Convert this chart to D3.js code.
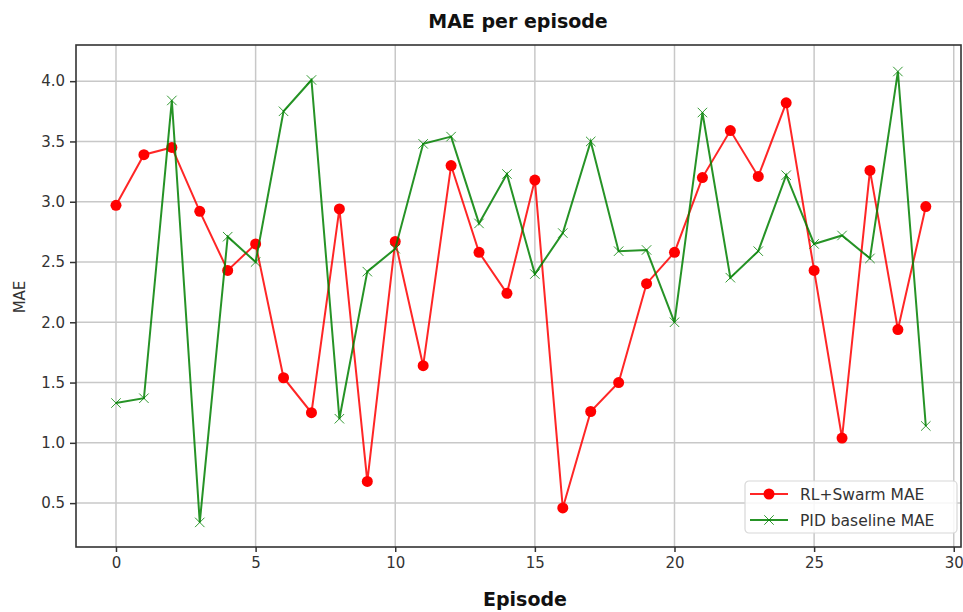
<!DOCTYPE html>
<html>
<head>
<meta charset="utf-8">
<script src="https://cdn.jsdelivr.net/npm/d3@7"></script>
<style>
  html, body { margin: 0; padding: 0; background: #fff; }
  svg { display: block; }
  text { font-family: "DejaVu Sans", sans-serif; }
</style>
</head>
<body>
<script>
// Mean absolute error per training episode for the two controllers
const episodes = d3.range(0, 30);
const rlSwarmMAE = [2.97, 3.39, 3.45, 2.92, 2.43, 2.65, 1.54, 1.25, 2.94, 0.68,
                    2.67, 1.64, 3.30, 2.58, 2.24, 3.18, 0.46, 1.26, 1.50, 2.32,
                    2.58, 3.20, 3.59, 3.21, 3.82, 2.43, 1.04, 3.26, 1.94, 2.96];
const pidMAE     = [1.33, 1.37, 3.84, 0.34, 2.71, 2.50, 3.75, 4.01, 1.20, 2.42,
                    2.61, 3.48, 3.54, 2.82, 3.23, 2.40, 2.74, 3.50, 2.59, 2.60,
                    2.00, 3.74, 2.37, 2.59, 3.22, 2.65, 2.72, 2.53, 4.08, 1.14];
const xTicks = [0, 5, 10, 15, 20, 25, 30];
const yTicks = [0.5, 1.0, 1.5, 2.0, 2.5, 3.0, 3.5, 4.0];
const seriesNames = ["RL+Swarm MAE", "PID baseline MAE"];

const W = 963, H = 612;
const plot = { left: 76, right: 961, top: 45, bottom: 547 };

const svg = d3.select("body").append("svg").attr("width", W).attr("height", H);

const x = d3.scaleLinear().domain([-1.432, 30.26]).range([plot.left, plot.right]);
const y = d3.scaleLinear().domain([0.136, 4.30]).range([plot.bottom, plot.top]);

// grid
const grid = svg.append("g");
grid.selectAll("line.gx").data(xTicks).join("line")
  .attr("x1", d => x(d)).attr("x2", d => x(d))
  .attr("y1", plot.top).attr("y2", plot.bottom)
  .attr("stroke", "#c8c8c8").attr("stroke-width", 1.5);
grid.selectAll("line.gy").data(yTicks).join("line")
  .attr("x1", plot.left).attr("x2", plot.right)
  .attr("y1", d => y(d)).attr("y2", d => y(d))
  .attr("stroke", "#c8c8c8").attr("stroke-width", 1.5);

// axes
const xAxis = svg.append("g").attr("transform", `translate(0,${plot.bottom})`)
  .call(d3.axisBottom(x).tickValues(xTicks).tickFormat(d3.format("d")).tickSize(5).tickPadding(5));
const yAxis = svg.append("g").attr("transform", `translate(${plot.left},0)`)
  .call(d3.axisLeft(y).tickValues(yTicks).tickFormat(d3.format(".1f")).tickSize(6).tickPadding(5));
[xAxis, yAxis].forEach(g => {
  g.select(".domain").remove();
  g.selectAll(".tick line").attr("stroke", "#333").attr("stroke-width", 1.5);
  g.selectAll(".tick text").attr("fill", "#333").style("font-size", "15px")
    .style("font-family", "DejaVu Sans, sans-serif");
});

// frame
svg.append("rect")
  .attr("x", plot.left).attr("y", plot.top)
  .attr("width", plot.right - plot.left).attr("height", plot.bottom - plot.top)
  .attr("fill", "none").attr("stroke", "#333").attr("stroke-width", 1.6);

// lines
const line = d3.line().x((d, i) => x(episodes[i])).y(d => y(d));

svg.append("path").datum(rlSwarmMAE)
  .attr("d", line).attr("fill", "none")
  .attr("stroke", "#ff0000").attr("stroke-width", 2).attr("stroke-opacity", 0.85);
svg.append("g").selectAll("circle").data(rlSwarmMAE).join("circle")
  .attr("cx", (d, i) => x(episodes[i])).attr("cy", d => y(d))
  .attr("r", 5.5).attr("fill", "#ff0000");

svg.append("path").datum(pidMAE)
  .attr("d", line).attr("fill", "none")
  .attr("stroke", "#008000").attr("stroke-width", 2).attr("stroke-opacity", 0.85);
const xSym = d3.symbol().type(d3.symbolX).size(60);
svg.append("g").selectAll("path").data(pidMAE).join("path")
  .attr("transform", (d, i) => `translate(${x(episodes[i])},${y(d)})`)
  .attr("d", xSym).attr("fill", "#008000").attr("stroke", "#008000").attr("stroke-width", 0.8);

// titles
svg.append("text").attr("x", 518).attr("y", 28)
  .attr("text-anchor", "middle").style("font-size", "19px").style("font-weight", "bold")
  .attr("fill", "#111").text("MAE per episode");
svg.append("text").attr("x", 525).attr("y", 606)
  .attr("text-anchor", "middle").style("font-size", "19px").style("font-weight", "bold")
  .attr("fill", "#111").text("Episode");
svg.append("text")
  .attr("transform", `translate(25,297) rotate(-90)`)
  .attr("text-anchor", "middle").style("font-size", "15px")
  .attr("fill", "#333").text("MAE");

// legend
const lg = svg.append("g").attr("transform", "translate(745,481)");
lg.append("rect").attr("width", 212).attr("height", 52).attr("rx", 4)
  .attr("fill", "#fff").attr("fill-opacity", 0.85)
  .attr("stroke", "#d8d8d8").attr("stroke-width", 1.2);
const colors = ["#ff0000", "#008000"];
seriesNames.forEach((name, i) => {
  const ry = 13 + i * 26;
  lg.append("line").attr("x1", 5).attr("x2", 43).attr("y1", ry).attr("y2", ry)
    .attr("stroke", colors[i]).attr("stroke-width", 2).attr("stroke-opacity", 0.85);
  if (i === 0) {
    lg.append("circle").attr("cx", 24).attr("cy", ry).attr("r", 5.5).attr("fill", colors[i]);
  } else {
    lg.append("path").attr("transform", `translate(24,${ry})`).attr("d", xSym)
      .attr("fill", colors[i]).attr("stroke", colors[i]).attr("stroke-width", 0.8);
  }
  lg.append("text").attr("x", 55).attr("y", ry + 5.5)
    .style("font-size", "15.5px").attr("fill", "#333").text(name);
});
</script>
</body>
</html>
